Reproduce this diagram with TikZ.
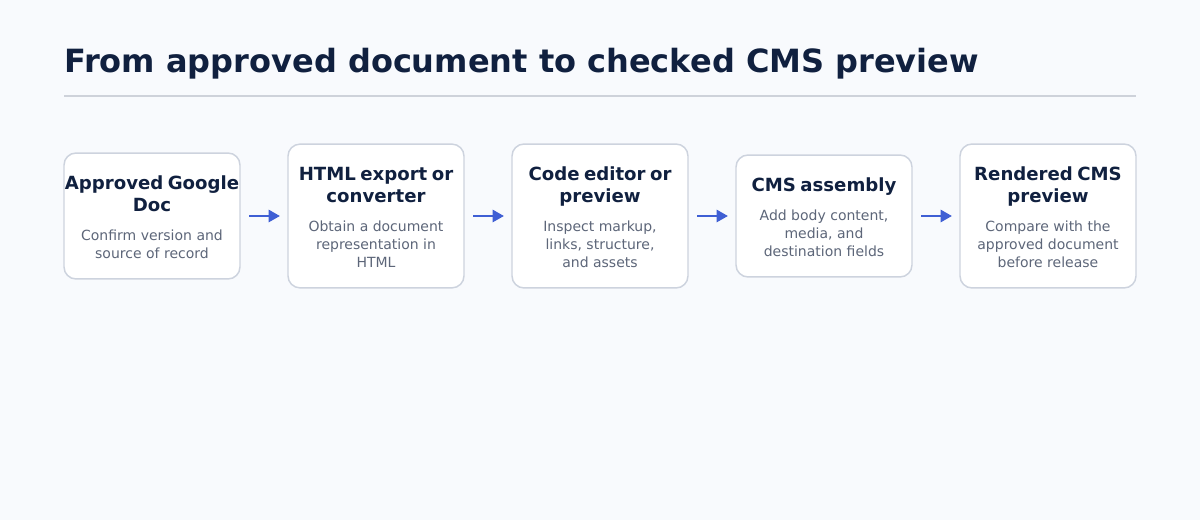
\documentclass[tikz,border=0pt]{standalone}
\usepackage{fontspec}
\setmainfont{DejaVu Sans}
\usetikzlibrary{positioning,arrows.meta}
\definecolor{bgcol}{HTML}{F8FAFD}
\definecolor{headcol}{HTML}{10203F}
\definecolor{bodycol}{HTML}{5D6679}
\definecolor{edgecol}{HTML}{CDD3DE}
\definecolor{rulecol}{HTML}{CED2DA}
\definecolor{flowcol}{HTML}{3F5FD4}
\newcommand{\stagetitle}[1]{{\fontsize{13.6}{16.5}\selectfont\bfseries\color{headcol}\rule{0pt}{11.8pt}#1\par}}
\newcommand{\stagebody}[1]{\vspace{8pt}{\fontsize{10.5}{13.5}\selectfont\color{bodycol}#1\par}}

\begin{document}
\begin{tikzpicture}[x=0.75pt, y=-0.75pt,
	    stage/.style={draw=edgecol, line width=1.1pt, fill=white, rounded corners=9pt,
	      text width=132pt, inner xsep=0pt, inner ysep=15.5pt, outer sep=0pt, align=center},
	    flow/.style={-{Triangle[length=8.5pt,width=9pt]}, line width=2pt, draw=flowcol,
	      shorten <=6.75pt, shorten >=6pt}]
	    \useasboundingbox[fill=bgcol] (0,0) rectangle (1200,520);

		\node[anchor=base west, inner sep=0pt, text=headcol,
		  font=\fontsize{24}{28}\selectfont\bfseries] (heading) at (64,73)
		  {From approved document to checked CMS preview};
		\coordinate (ruleL) at (64,96);
		\coordinate (ruleR) at (1136,96);
		\draw[rulecol, line width=1.1pt] (ruleL) -- (ruleR);

		% the five stages
		\node[stage, anchor=west] (gdoc) at (64,216)
		  {\stagetitle{Approved Google\\Doc}\stagebody{Confirm version and\\source of record}};
		\node[stage, right=36pt of gdoc] (export)
		  {\stagetitle{HTML export or\\converter}\stagebody{Obtain a document\\representation in\\HTML}};
		\node[stage, right=36pt of export] (editor)
		  {\stagetitle{Code editor or\\preview}\stagebody{Inspect markup,\\links, structure,\\and assets}};
		\node[stage, right=36pt of editor] (cms)
		  {\stagetitle{CMS assembly}\stagebody{Add body content,\\media, and\\destination fields}};
		\node[stage, right=36pt of cms] (preview)
		  {\stagetitle{Rendered CMS\\preview}\stagebody{Compare with the\\approved document\\before release}};

		\draw[flow] (gdoc) -- (export);
		\draw[flow] (export) -- (editor);
		\draw[flow] (editor) -- (cms);
		\draw[flow] (cms) -- (preview);
	  \end{tikzpicture}
\end{document}
